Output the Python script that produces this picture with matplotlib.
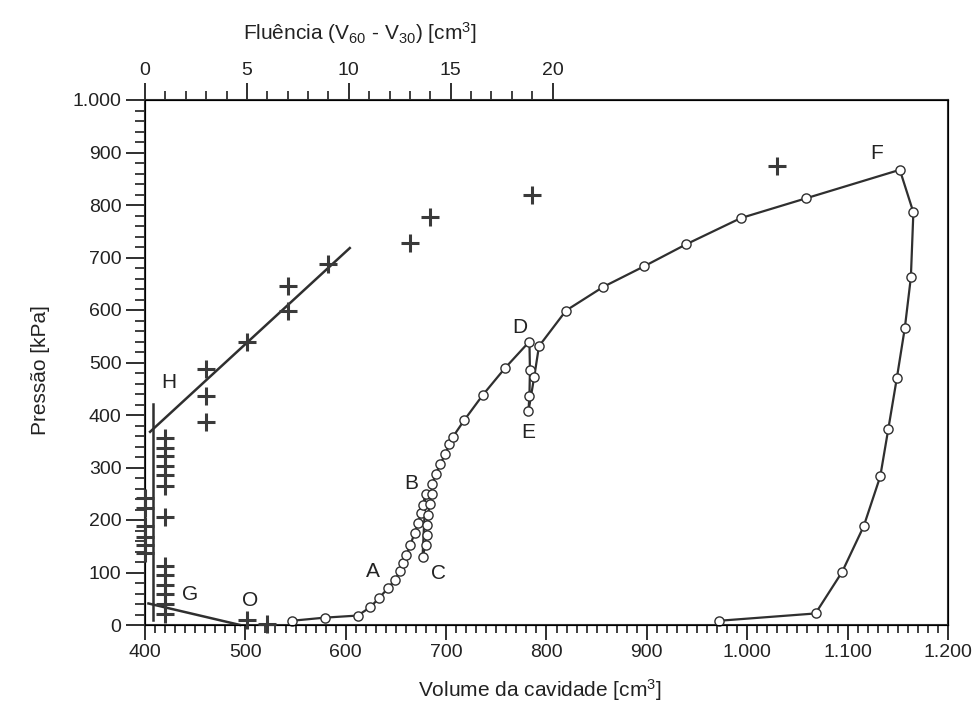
import numpy as np
import matplotlib.pyplot as plt
from matplotlib.ticker import MultipleLocator, FixedLocator, FuncFormatter

plt.rcParams['font.family'] = ['Liberation Sans', 'DejaVu Sans']
plt.rcParams['mathtext.fontset'] = 'custom'
plt.rcParams['mathtext.rm'] = 'Liberation Sans'
plt.rcParams['mathtext.it'] = 'Liberation Sans:italic'

INK = '#2f2f2f'

# curva pressao x volume, trecho a trecho
vol_carga_ab = [546, 579, 612, 624.5, 633.5, 642, 649, 654, 657.5, 660.5, 664.5, 668.5, 672, 675, 677, 679.5]
pre_carga_ab = [8, 14, 18, 34, 52, 70, 86, 102, 118, 134, 153, 175, 194, 213, 229, 250]

vol_descarga_bc = [676.5]
pre_descarga_bc = [129]

vol_recarga_cd = [679.5, 680.5, 681, 682, 683.5, 685.5, 686, 689.5, 694, 699, 703, 707, 718, 736.5, 758.5, 783]
pre_recarga_cd = [153, 172, 191, 210, 230, 249, 268, 287, 306, 325, 344, 359, 390, 438, 489, 540]

vol_descarga_de = [783.5, 783, 782]
pre_descarga_de = [485, 437, 407]

vol_recarga_ef = [787.8, 792.5, 819.5, 856.5, 897, 939, 993.5, 1059, 1152]
pre_recarga_ef = [473, 531, 599, 644, 683, 725, 775, 813, 867]

vol_descarga_f = [1165.5, 1163, 1157, 1149, 1140.5, 1132.5, 1116, 1094.5, 1068, 971.5]
pre_descarga_f = [786, 662, 566, 470, 373, 283, 188, 101, 22, 8]

# fluencia (V60 - V30) por estagio de pressao
flu = [0, 0, 0, 0, 0, 0,
       1, 1, 1, 1, 1, 1, 1, 1, 1, 1, 1, 1, 1,
       3, 3, 3, 5, 5, 6, 7, 7, 9, 13, 14, 19, 31]
flu_pre = [241, 222, 188, 168, 153, 138,
           356, 338, 321, 303, 285, 264, 205, 112, 95, 77, 59, 40, 21,
           487, 436, 386, 539, 10, 2, 599, 646, 687, 727, 777, 819, 874]

# retas de ajuste sobre a fluencia
reta_h_flu = [0.25, 10.05]
reta_h_pre = [368, 718]
reta_g_flu = [0.17, 4.67]
reta_g_pre = [41, 0]
vert_flu = [0.37, 0.37]
vert_pre = [10, 420]

# pontos notaveis
rotulos = ['A', 'B', 'C', 'D', 'E', 'F', 'G', 'H', 'O']
rot_vol = [627, 665.5, 692, 773, 781.5, 1129, 444.5, 424, 504.5]
rot_pre = [101, 270, 99, 566, 366, 899, 58, 462, 46]

vol = np.concatenate([vol_carga_ab, vol_descarga_bc, vol_recarga_cd,
                      vol_descarga_de, vol_recarga_ef, vol_descarga_f])
pre = np.concatenate([pre_carga_ab, pre_descarga_bc, pre_recarga_cd,
                      pre_descarga_de, pre_recarga_ef, pre_descarga_f])


def milhar(v, pos):
    return f"{int(round(v)):,}".replace(",", ".")


fig = plt.figure(figsize=(9.76, 7.16), dpi=100)
ax = fig.add_axes([145 / 976, 1 - 625 / 716, 803 / 976, 525 / 716])
ax.set_xlim(400, 1200)
ax.set_ylim(0, 1000)

ax.plot(vol, pre, '-', color=INK, lw=1.6, marker='o', ms=6.6, mfc='white',
        mec=INK, mew=1.0, zorder=4, clip_on=False)

for r, x, y in zip(rotulos, rot_vol, rot_pre):
    ax.text(x, y, r, fontsize=15, ha='center', va='center', color='#222222')

ax.xaxis.set_major_locator(MultipleLocator(100))
ax.xaxis.set_minor_locator(MultipleLocator(10))
ax.yaxis.set_major_locator(MultipleLocator(100))
ax.yaxis.set_minor_locator(MultipleLocator(20))
ax.xaxis.set_major_formatter(FuncFormatter(milhar))
ax.yaxis.set_major_formatter(FuncFormatter(milhar))
ax.tick_params(which='major', direction='out', width=1.4,
               labelsize=14, colors=INK, labelcolor='#222222')
ax.tick_params(which='minor', direction='out', width=1.3, colors=INK)
ax.tick_params(axis='y', which='major', length=14, pad=3)
ax.tick_params(axis='y', which='minor', length=7)
ax.tick_params(axis='x', which='major', length=11, pad=3)
ax.tick_params(axis='x', which='minor', length=6)
ax.tick_params(top=False, right=False, which='both')
for s in ax.spines.values():
    s.set_linewidth(1.5)
    s.set_color(INK)

ax.set_xlabel('Volume da cavidade [cm$^3$]', fontsize=15, color='#222222')
ax.xaxis.set_label_coords(0.492, -0.10)
ax.set_ylabel('Pressão [kPa]', fontsize=15, color='#222222')
ax.yaxis.set_label_coords(-0.118, 0.486)

# eixo superior: fluencia
ax2 = ax.twiny()
ax2.set_xlim(0, 800 / 20.3)
ax2.plot(flu, flu_pre, '+', color='#3a3a3a', ms=13, mew=2.2, clip_on=False, zorder=3)
ax2.plot(reta_h_flu, reta_h_pre, '-', color=INK, lw=1.8, clip_on=False)
ax2.plot(reta_g_flu, reta_g_pre, '-', color=INK, lw=1.8, clip_on=False)
ax2.plot(vert_flu, vert_pre, '-', color=INK, lw=1.8, clip_on=False)

ax2.xaxis.set_major_locator(FixedLocator([0, 5, 10, 15, 20]))
ax2.xaxis.set_minor_locator(FixedLocator(list(range(0, 21))))
ax2.tick_params(which='major', direction='out', length=12, width=1.4,
                labelsize=14, pad=3, colors=INK, labelcolor='#222222')
ax2.tick_params(which='minor', direction='out', length=6.5, width=1.3, colors=INK)
ax2.set_xlabel('Fluência (V$_{60}$ - V$_{30}$) [cm$^3$]', fontsize=15, color='#222222')
ax2.xaxis.set_label_coords(0.268, 1.115)

fig.savefig('out.png', dpi=100)
